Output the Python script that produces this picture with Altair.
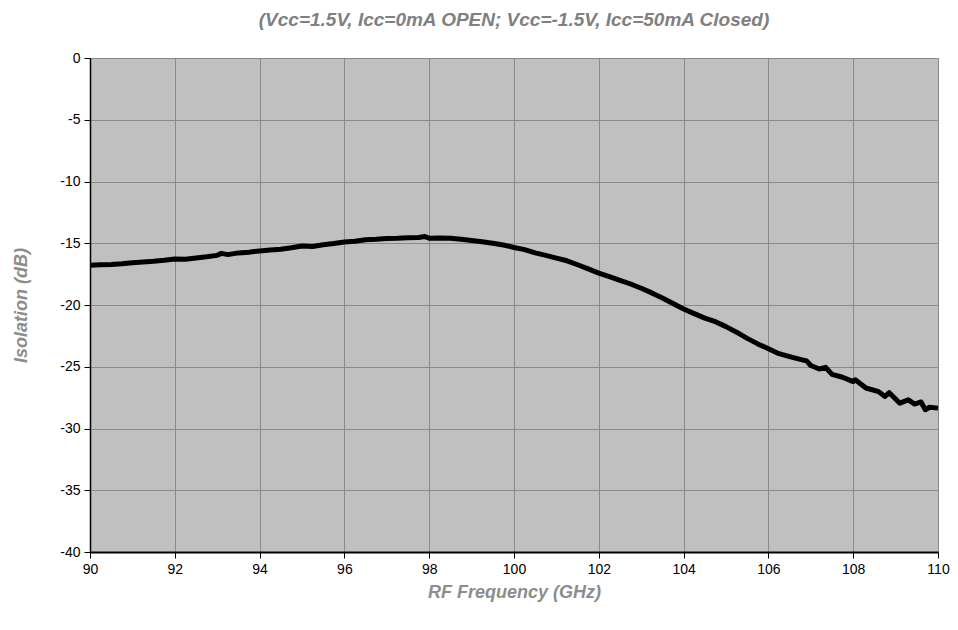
import altair as alt
import pandas as pd

freq_ghz = [
    90.0, 90.25, 90.5, 90.75, 91.0, 91.25, 91.5, 91.75, 92.0, 92.25, 92.5, 92.75,
    93.0, 93.1, 93.25, 93.5, 93.75, 94.0, 94.25, 94.5, 94.75, 95.0, 95.25, 95.5,
    95.75, 96.0, 96.25, 96.5, 96.75, 97.0, 97.25, 97.5, 97.75, 97.9, 98.0, 98.25,
    98.5, 98.75, 99.0, 99.25, 99.5, 99.75, 100.0, 100.25, 100.5, 100.75, 101.0,
    101.25, 101.5, 101.75, 102.0, 102.25, 102.5, 102.75, 103.0, 103.25, 103.5,
    103.75, 104.0, 104.25, 104.5, 104.75, 105.0, 105.25, 105.5, 105.75, 106.0,
    106.25, 106.5, 106.75, 106.9, 107.0, 107.2, 107.35, 107.5, 107.75, 108.0,
    108.05, 108.3, 108.6, 108.75, 108.85, 109.1, 109.3, 109.45, 109.6, 109.7,
    109.8, 110.0,
]
isolation_db = [
    -16.78, -16.74, -16.72, -16.66, -16.58, -16.52, -16.46, -16.38, -16.28, -16.30, -16.20, -16.10,
    -15.98, -15.82, -15.92, -15.78, -15.72, -15.62, -15.55, -15.48, -15.36, -15.22, -15.26, -15.12,
    -15.02, -14.90, -14.84, -14.72, -14.68, -14.62, -14.60, -14.56, -14.54, -14.46, -14.60, -14.58,
    -14.60, -14.68, -14.78, -14.88, -15.00, -15.14, -15.34, -15.52, -15.78, -15.98, -16.20,
    -16.42, -16.74, -17.08, -17.42, -17.70, -18.00, -18.30, -18.64, -19.02, -19.44,
    -19.88, -20.32, -20.70, -21.06, -21.35, -21.75, -22.20, -22.70, -23.15, -23.55,
    -23.94, -24.18, -24.40, -24.52, -24.90, -25.18, -25.05, -25.62, -25.85, -26.20,
    -26.05, -26.72, -27.02, -27.40, -27.10, -27.95, -27.68, -28.02, -27.85, -28.48,
    -28.28, -28.35,
]

x_ticks = [90, 92, 94, 96, 98, 100, 102, 104, 106, 108, 110]
y_ticks = [0, -5, -10, -15, -20, -25, -30, -35, -40]

df = pd.DataFrame({"freq": freq_ghz, "iso": isolation_db})

FONT = "Liberation Sans"
TITLE_GRAY = "#808080"
AXIS_TITLE_GRAY = "#8c8c8c"
GRID = "#8a8a8a"

chart = (
    alt.Chart(df)
    .mark_line(color="#000000", strokeWidth=5, strokeJoin="round")
    .encode(
        x=alt.X(
            "freq:Q",
            scale=alt.Scale(domain=[90, 110], nice=False, zero=False),
            axis=alt.Axis(
                title="RF Frequency (GHz)",
                values=x_ticks,
                grid=True,
                gridColor=GRID,
                gridWidth=1,
                domainColor="#000000",
                domainWidth=2,
                tickColor="#000000",
                tickSize=6,
                labelPadding=4,
                labelFlush=False,
                labelFont=FONT,
                labelFontSize=14,
                labelColor="#000000",
                titleFont=FONT,
                titleFontSize=18,
                titleFontWeight="bold",
                titleFontStyle="italic",
                titleColor=AXIS_TITLE_GRAY,
                titleY=40,
                titleBaseline="middle",
            ),
        ),
        y=alt.Y(
            "iso:Q",
            scale=alt.Scale(domain=[-40, 0], nice=False, zero=False),
            axis=alt.Axis(
                title="Isolation (dB)",
                values=y_ticks,
                labelExpr="toString(datum.value)",
                grid=True,
                gridColor=GRID,
                gridWidth=1,
                domainColor="#000000",
                domainWidth=1.5,
                tickColor="#000000",
                tickSize=6,
                labelPadding=4,
                labelFlush=False,
                labelFont=FONT,
                labelFontSize=14,
                labelColor="#000000",
                titleFont=FONT,
                titleFontSize=18,
                titleFontWeight="bold",
                titleFontStyle="italic",
                titleColor=AXIS_TITLE_GRAY,
                titleX=-69,
                titleY=247,
                titleBaseline="middle",
            ),
        ),
    )
    .properties(
        width=848,
        height=494,
        title=alt.TitleParams(
            text="(Vcc=1.5V, Icc=0mA OPEN; Vcc=-1.5V, Icc=50mA Closed)",
            font=FONT,
            fontSize=19,
            fontWeight="bold",
            fontStyle="italic",
            color=TITLE_GRAY,
            anchor="middle",
            offset=21,
        ),
        autosize=alt.AutoSizeParams(type="none"),
        padding={"left": 82, "top": 50, "right": 12, "bottom": 50},
    )
    .configure(background="#ffffff")
    .configure_view(fill="#C0C0C0", stroke=GRID, strokeWidth=1)
)

chart.save("out.html", embed_options={"renderer": "svg", "actions": False})
